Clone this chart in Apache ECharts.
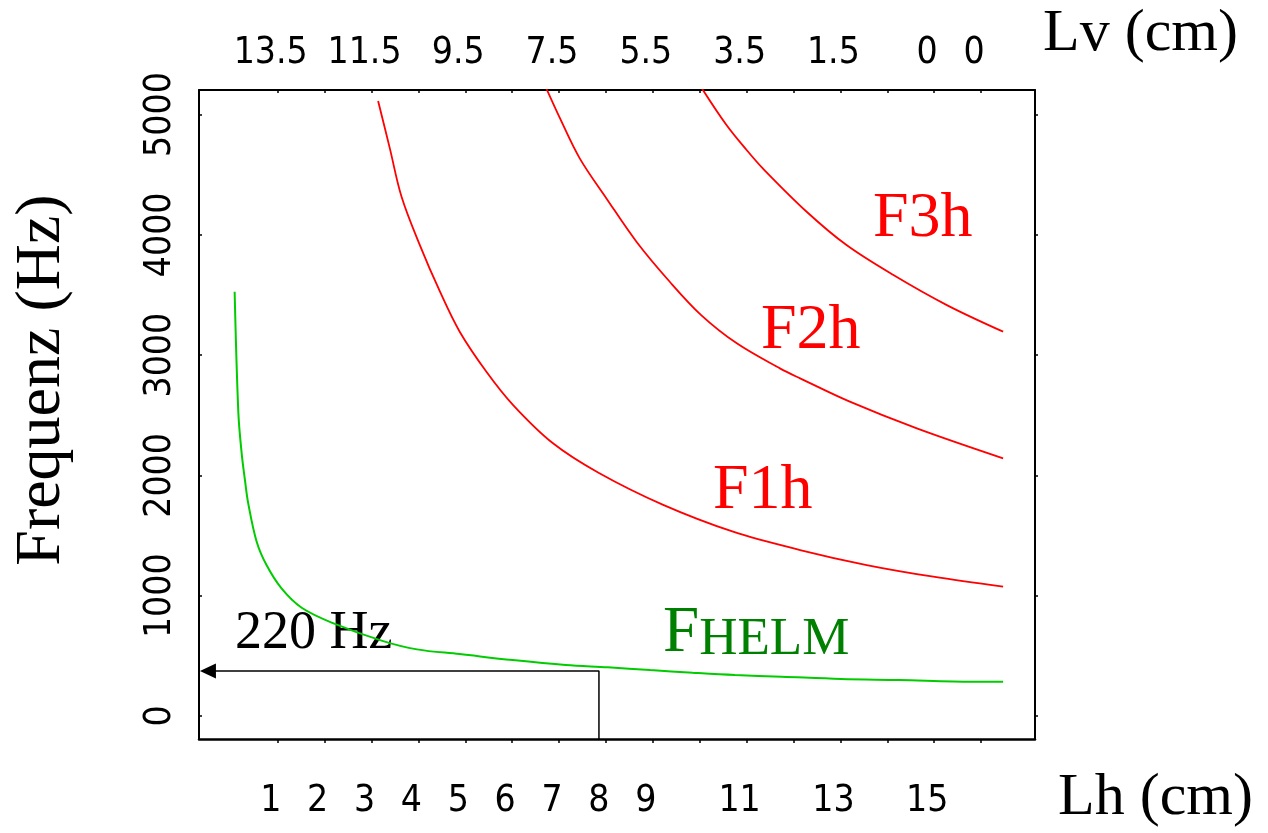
<!DOCTYPE html>
<html>
<head>
<meta charset="utf-8">
<script src="https://cdn.jsdelivr.net/npm/echarts@6/dist/echarts.min.js"></script>
<style>
  html, body { margin: 0; padding: 0; background: #fff; }
  #chart { width: 1268px; height: 833px; }
</style>
</head>
<body>
<div id="chart"></div>
<script>
// Lh (cm) on x, Frequenz (Hz) on y
const fHelm = [
  [0.23, 3527], [0.31, 2516], [0.38, 2184], [0.45, 1962], [0.52, 1768],
  [0.70, 1449], [0.91, 1255], [1.23, 1061], [1.66, 900],
  [2.34, 770], [3.38, 625], [4.12, 554], [5.03, 515], [6.16, 465],
  [7.29, 424], [8.19, 405], [9.09, 382], [10.0, 360], [10.9, 341],
  [11.9, 327], [13.16, 308], [14.4, 299], [15.98, 285], [16.62, 285]
];
const f1h = [
  [3.29, 5112], [3.54, 4719], [3.79, 4317], [4.18, 3915], [4.61, 3527],
  [5.03, 3195], [5.60, 2862], [6.17, 2585], [7.02, 2267], [8.0, 2020],
  [9.37, 1755], [10.86, 1532], [12.29, 1380], [13.71, 1255], [15.13, 1158],
  [16.62, 1075]
];
const f2h = [
  [6.88, 5215], [7.17, 4968], [7.59, 4636], [8.16, 4303], [8.80, 3943],
  [9.51, 3610], [10.18, 3333], [10.94, 3098], [11.86, 2890], [12.29, 2807],
  [13.35, 2613], [14.78, 2391], [16.62, 2142]
];
const f3h = [
  [10.2, 5215], [10.72, 4913], [11.15, 4705], [11.5, 4550], [12.43, 4192],
  [13.28, 3915], [14.28, 3666], [15.42, 3416], [16.62, 3195]
];
// 220 Hz marker: up from Lh = 8, then left to the axis
const markerLh = 8;
const markerF = 374;

const bottomLabels = [1, 2, 3, 4, 5, 6, 7, 8, 9, 11, 13, 15];
const bottomTicks = [1.15, 2.15, 3.15, 4.15, 5.15, 6.15, 7.15, 8.15, 9.15, 10.15, 11.15, 12.15, 13.15, 14.15, 15.15, 16.15];
const topLabelPos = [1, 3, 5, 7, 9, 11, 13, 15, 16];
const topLabelText = ['13.5', '11.5', '9.5', '7.5', '5.5', '3.5', '1.5', '0', '0'];
const freqTicks = [0, 1000, 2000, 3000, 4000, 5000];

const xMin = -0.53, xMax = 17.3;
const yMin = -191, yMax = 5204;

const narrow = "'Liberation Sans Narrow', 'Arial Narrow', 'DejaVu Sans Condensed', sans-serif";
const serif = "'Liberation Serif', 'Times New Roman', serif";

const chart = echarts.init(document.getElementById('chart'));

const axisLine = { show: true, onZero: false, lineStyle: { color: '#000', width: 2 } };

function curve(name, data, color, width) {
  return {
    name: name, type: 'line', data: data, symbol: 'none',
    smooth: 0.35,
    lineStyle: { color: color, width: width }
  };
}

const option = {
  animation: false,
  backgroundColor: '#fff',
  grid: { left: 199, top: 90, width: 836, height: 649, containLabel: false, outerBoundsMode: 'none' },
  xAxis: [
    {
      type: 'value', position: 'bottom', min: xMin, max: xMax,
      axisLine: { show: true, onZero: false, lineStyle: { color: '#000', width: 2.5 } },
      splitLine: { show: false },
      axisTick: { show: true, inside: false, length: 4, customValues: bottomTicks, lineStyle: { color: '#000', width: 1.5 } },
      axisLabel: {
        customValues: bottomLabels, margin: 44, color: '#000',
        fontFamily: narrow, fontSize: 37
      }
    },
    {
      type: 'value', position: 'top', min: xMin, max: xMax,
      axisLine: axisLine,
      splitLine: { show: false },
      axisTick: { show: true, inside: true, length: 3, customValues: bottomTicks, lineStyle: { color: '#000', width: 1.5 } },
      axisLabel: {
        customValues: topLabelPos, margin: 18, color: '#000',
        fontFamily: narrow, fontSize: 37,
        formatter: function (v) {
          const i = topLabelPos.indexOf(Math.round(v));
          return i >= 0 ? topLabelText[i] : '';
        }
      }
    }
  ],
  yAxis: [
    {
      type: 'value', position: 'left', min: yMin, max: yMax,
      axisLine: axisLine,
      splitLine: { show: false },
      axisTick: { show: true, inside: true, length: 3, customValues: freqTicks, lineStyle: { color: '#000', width: 1.5 } },
      axisLabel: {
        customValues: freqTicks, rotate: 90, margin: 20, color: '#000',
        fontFamily: narrow, fontSize: 37,
        formatter: function (v) { return String(Math.round(v)); }
      }
    },
    {
      type: 'value', position: 'right', min: yMin, max: yMax,
      axisLine: axisLine,
      splitLine: { show: false },
      axisTick: { show: true, inside: false, length: 3, customValues: freqTicks, lineStyle: { color: '#000', width: 1.5 } },
      axisLabel: { show: false }
    }
  ],
  series: [
    curve('FHELM', fHelm, '#00cc00', 2),
    curve('F1h', f1h, '#ff0000', 1.8),
    curve('F2h', f2h, '#ff0000', 1.8),
    curve('F3h', f3h, '#ff0000', 1.8),
    {
      name: '220 Hz', type: 'line', symbol: 'none',
      lineStyle: { color: '#000', width: 1.5 },
      data: [
        [markerLh, yMin],
        [markerLh, markerF],
        { value: [-0.34, markerF], symbol: 'triangle', symbolRotate: 90, symbolSize: [15, 16], itemStyle: { color: '#000' } }
      ]
    }
  ],
  graphic: [
    { type: 'text', x: 1043, y: 34, style: { text: 'Lv (cm)', font: '60px ' + serif, fill: '#000', align: 'left', verticalAlign: 'middle' } },
    { type: 'text', x: 1058, y: 798, style: { text: 'Lh (cm)', font: '60px ' + serif, fill: '#000', align: 'left', verticalAlign: 'middle' } },
    { type: 'text', x: 42, y: 380, rotation: Math.PI / 2, style: { text: 'Frequenz (Hz)', font: '64px ' + serif, fill: '#000', align: 'center', verticalAlign: 'middle' } },
    { type: 'text', x: 873, y: 219, style: { text: 'F3h', font: '64px ' + serif, fill: '#ff0000', align: 'left', verticalAlign: 'middle' } },
    { type: 'text', x: 761, y: 331, style: { text: 'F2h', font: '64px ' + serif, fill: '#ff0000', align: 'left', verticalAlign: 'middle' } },
    { type: 'text', x: 713, y: 491, style: { text: 'F1h', font: '64px ' + serif, fill: '#ff0000', align: 'left', verticalAlign: 'middle' } },
    { type: 'text', x: 235, y: 634, style: { text: '220 Hz', font: '54px ' + serif, fill: '#000', align: 'left', verticalAlign: 'middle' } },
    {
      type: 'text', x: 663, y: 634,
      style: {
        text: '{a|F}{b|HELM}', align: 'left', verticalAlign: 'middle', fill: '#008000',
        rich: {
          a: { fontSize: 65, fontFamily: serif, color: '#008000', lineHeight: 65, verticalAlign: 'bottom' },
          b: { fontSize: 53, fontFamily: serif, color: '#008000', lineHeight: 57, verticalAlign: 'bottom' }
        }
      }
    }
  ]
};

chart.setOption(option);
</script>
</body>
</html>
